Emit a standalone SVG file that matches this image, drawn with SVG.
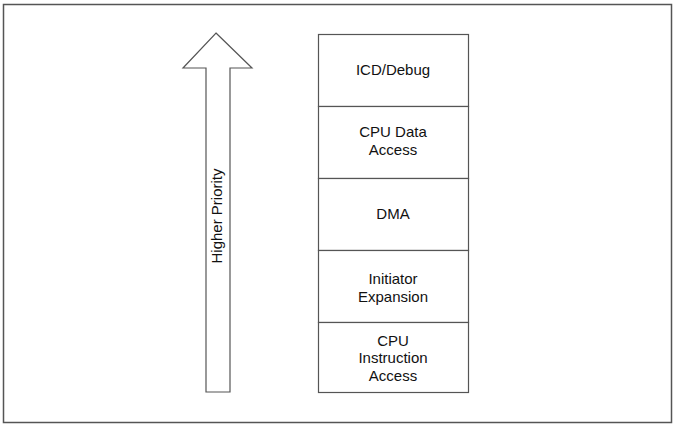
<svg xmlns="http://www.w3.org/2000/svg" width="677" height="427" viewBox="0 0 677 427">
<style>
.b{fill:#fff;stroke:#555;stroke-width:1.2}
.t{font-family:"Liberation Sans",Arial,sans-serif;font-size:15px;fill:#111;text-anchor:middle}
</style>
<rect x="0" y="0" width="677" height="427" fill="#fff"/>
<rect x="3.5" y="4.5" width="668" height="418" fill="none" stroke="#555" stroke-width="1.5"/>
<g id="arrow">
<polygon class="b" points="216,33 252,68 230,68 230,392 206,392 206,68 183,68"/>
<text class="t" transform="translate(222,216) rotate(-90)">Higher Priority</text>
</g>
<g id="icd"><rect class="b" x="318.5" y="34.5" width="150" height="72"/><text class="t" x="393" y="75">ICD/Debug</text></g>
<g id="cpudata"><rect class="b" x="318.5" y="106.5" width="150" height="72"/><text class="t" x="393" y="137">CPU Data</text><text class="t" x="393" y="155">Access</text></g>
<g id="dma"><rect class="b" x="318.5" y="178.5" width="150" height="72"/><text class="t" x="393" y="219">DMA</text></g>
<g id="initiator"><rect class="b" x="318.5" y="250.5" width="150" height="72"/><text class="t" x="393" y="284">Initiator</text><text class="t" x="393" y="302">Expansion</text></g>
<g id="cpuinstr"><rect class="b" x="318.5" y="322.5" width="150" height="70"/><text class="t" x="393" y="346">CPU</text><text class="t" x="393" y="363">Instruction</text><text class="t" x="393" y="381">Access</text></g>
<g id="connectors"></g>
</svg>
